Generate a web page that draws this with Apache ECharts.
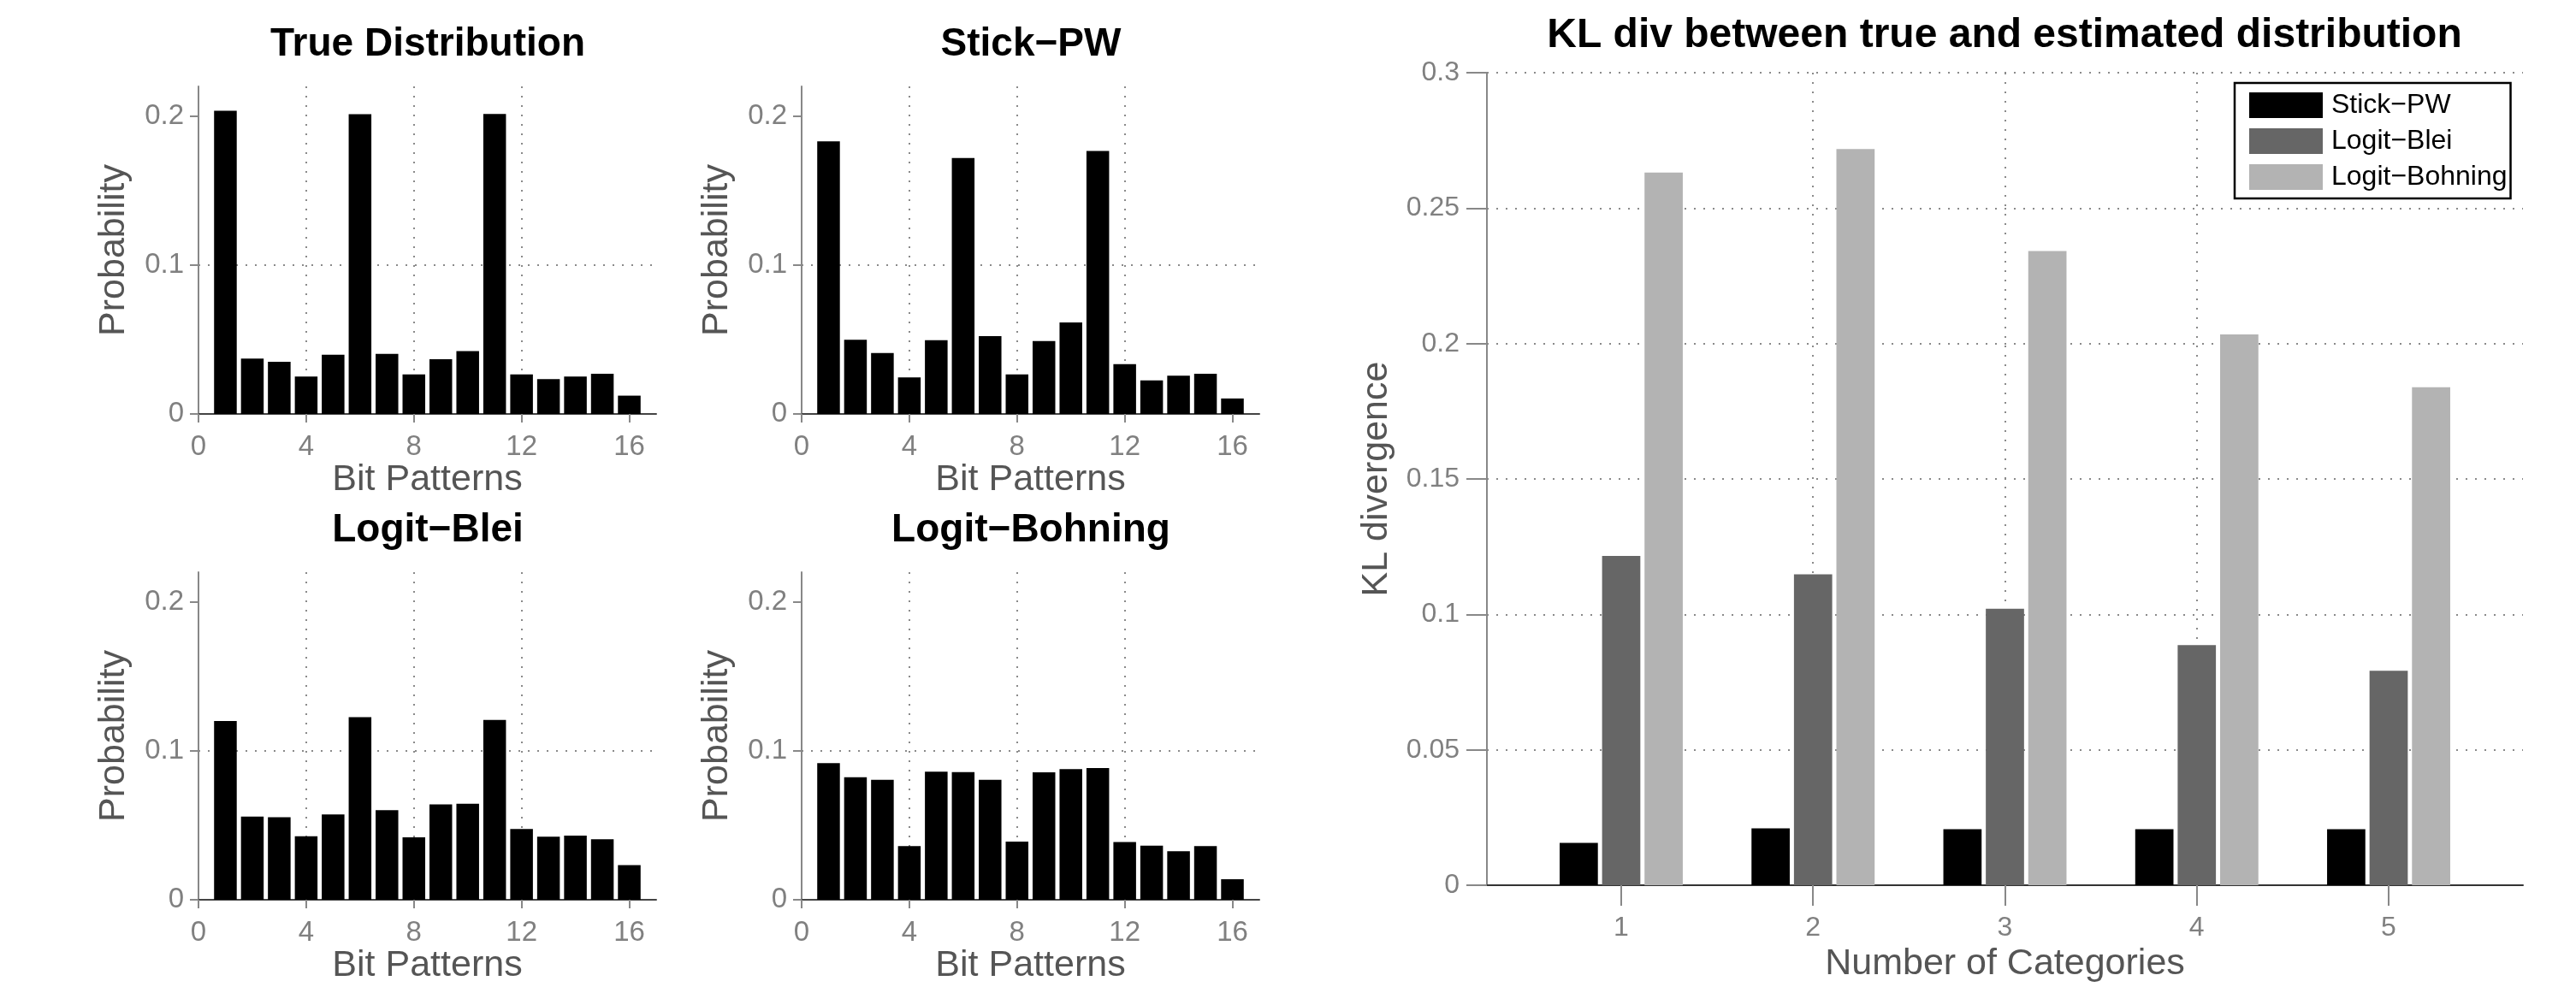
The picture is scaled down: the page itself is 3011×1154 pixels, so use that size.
<!DOCTYPE html>
<html>
<head>
<meta charset="utf-8">
<script src="https://cdn.jsdelivr.net/npm/echarts@6/dist/echarts.min.js"></script>
<style>
html, body { margin: 0; padding: 0; background: #fff; }
#main { width: 3011px; height: 1154px; }
</style>
</head>
<body>
<div id="main"></div>
<script>
// data
var bitPatterns = [1, 2, 3, 4, 5, 6, 7, 8, 9, 10, 11, 12, 13, 14, 15, 16];
var trueDist     = [0.2037, 0.0372, 0.0350, 0.0251, 0.0398, 0.2013, 0.0404, 0.0266, 0.0368, 0.0422, 0.2015, 0.0266, 0.0234, 0.0251, 0.0270, 0.0123];
var stickPW      = [0.1831, 0.0499, 0.0409, 0.0246, 0.0495, 0.1719, 0.0523, 0.0266, 0.0489, 0.0614, 0.1766, 0.0335, 0.0225, 0.0257, 0.0270, 0.0104];
var logitBlei    = [0.1200, 0.0559, 0.0555, 0.0427, 0.0573, 0.1227, 0.0602, 0.0419, 0.0641, 0.0645, 0.1208, 0.0476, 0.0423, 0.0431, 0.0406, 0.0233];
var logitBohning = [0.0918, 0.0823, 0.0806, 0.0361, 0.0860, 0.0858, 0.0806, 0.0390, 0.0856, 0.0878, 0.0885, 0.0388, 0.0363, 0.0326, 0.0361, 0.0138];
var bitTicks = [0, 4, 8, 12, 16];
var probTicks = [0, 0.1, 0.2];
var panelTitles = ['True Distribution', 'Stick\u2212PW', 'Logit\u2212Blei', 'Logit\u2212Bohning'];

var numCategories = [1, 2, 3, 4, 5];
var methodNames = ['Stick\u2212PW', 'Logit\u2212Blei', 'Logit\u2212Bohning'];
var klStickPW      = [0.0157, 0.0210, 0.0207, 0.0207, 0.0207];
var klLogitBlei    = [0.1216, 0.1148, 0.1021, 0.0887, 0.0792];
var klLogitBohning = [0.2631, 0.2718, 0.2342, 0.2034, 0.1839];

var myChart = echarts.init(document.getElementById('main'));
var font = 'Liberation Sans';

var dotted = { type: [2, 9], color: '#8a8a8a', width: 2 };

// layout of the four small panels
var panels = [
  { values: trueDist,     left: 232, top: 101 },
  { values: stickPW,      left: 937, top: 101 },
  { values: logitBlei,    left: 232, top: 669 },
  { values: logitBohning, left: 937, top: 669 }
];

function pairs(xs, ys) {
  return xs.map(function (x, i) { return [x, ys[i]]; });
}

var grids = [], xAxes = [], yAxes = [], series = [], titles = [];

panels.forEach(function (p, i) {
  grids.push({ left: p.left, top: p.top, width: 535, height: 383 });
  titles.push({
    text: panelTitles[i], left: p.left + 268, top: p.top - 72, textAlign: 'center', padding: 0,
    textStyle: { fontFamily: font, fontSize: 46, fontWeight: 'bold', color: '#000' }
  });
  xAxes.push({
    type: 'value', gridIndex: i, min: 0, max: 17, interval: 4,
    name: 'Bit Patterns', nameLocation: 'middle', nameGap: 56,
    nameTextStyle: { fontFamily: font, fontSize: 43, color: '#555' },
    axisLine: { lineStyle: { color: '#444', width: 2 } },
    axisTick: { customValues: bitTicks, length: 10, lineStyle: { color: '#888', width: 2 } },
    axisLabel: { customValues: bitTicks, margin: 22, fontFamily: font, fontSize: 33, color: '#808080' },
    splitLine: { show: true, showMinLine: false, showMaxLine: false, lineStyle: dotted }
  });
  yAxes.push({
    type: 'value', gridIndex: i, min: 0, max: 0.22, interval: 0.1,
    name: 'Probability', nameLocation: 'middle', nameGap: 77,
    nameTextStyle: { fontFamily: font, fontSize: 43, color: '#555' },
    axisLine: { show: true, lineStyle: { color: '#888', width: 2 } },
    axisTick: { show: true, customValues: probTicks, length: 10, lineStyle: { color: '#888', width: 2 } },
    axisLabel: { customValues: probTicks, margin: 17, fontFamily: font, fontSize: 33, color: '#808080' },
    splitLine: { show: true, showMinLine: false, showMaxLine: false, lineStyle: dotted }
  });
  series.push({
    type: 'bar', xAxisIndex: i, yAxisIndex: i, barWidth: 26.5,
    itemStyle: { color: '#000' },
    data: pairs(bitPatterns, p.values)
  });
});

// big KL chart
grids.push({ left: 1738, top: 85, width: 1211, height: 954 });
titles.push({
  text: 'KL div between true and estimated distribution', left: 2343, top: 18, textAlign: 'center', padding: 0,
  textStyle: { fontFamily: font, fontSize: 48, fontWeight: 'bold', color: '#000' }
});
xAxes.push({
  type: 'value', gridIndex: 4, min: 0.3, max: 5.7,
  name: 'Number of Categories', nameLocation: 'middle', nameGap: 67,
  nameTextStyle: { fontFamily: font, fontSize: 43, color: '#555' },
  axisLine: { lineStyle: { color: '#333', width: 2 } },
  axisTick: { customValues: numCategories, length: 24, lineStyle: { color: '#888', width: 2 } },
  axisLabel: { customValues: numCategories, margin: 34, fontFamily: font, fontSize: 32, color: '#808080' },
  splitLine: { show: true, showMinLine: false, showMaxLine: false, lineStyle: dotted }
});
yAxes.push({
  type: 'value', gridIndex: 4, min: 0, max: 0.3, interval: 0.05,
  name: 'KL divergence', nameLocation: 'middle', nameGap: 107,
  nameTextStyle: { fontFamily: font, fontSize: 43, color: '#555' },
  axisLine: { show: true, lineStyle: { color: '#888', width: 2 } },
  axisTick: { show: true, length: 24, lineStyle: { color: '#888', width: 2 } },
  axisLabel: { margin: 32, fontFamily: font, fontSize: 32, color: '#808080' },
  splitLine: { show: true, showMinLine: false, lineStyle: dotted }
});

var klColors = ['#000000', '#666666', '#b3b3b3'];
[klStickPW, klLogitBlei, klLogitBohning].forEach(function (vals, k) {
  series.push({
    name: methodNames[k], type: 'bar', xAxisIndex: 4, yAxisIndex: 4,
    barWidth: 44.7, barGap: '11%',
    itemStyle: { color: klColors[k] },
    data: pairs(numCategories, vals)
  });
});

option = {
  backgroundColor: '#fff',
  animation: false,
  title: titles,
  legend: {
    data: methodNames, orient: 'vertical', left: 2612, top: 97,
    icon: 'rect', itemWidth: 86, itemHeight: 30, itemGap: 10,
    padding: [10, 4, 9, 17],
    backgroundColor: '#fff', borderColor: '#000', borderWidth: 2.5,
    textStyle: { fontFamily: font, fontSize: 32, color: '#000', padding: [0, 0, 0, 5] }
  },
  grid: grids,
  xAxis: xAxes,
  yAxis: yAxes,
  series: series
};

myChart.setOption(option);
</script>
</body>
</html>
